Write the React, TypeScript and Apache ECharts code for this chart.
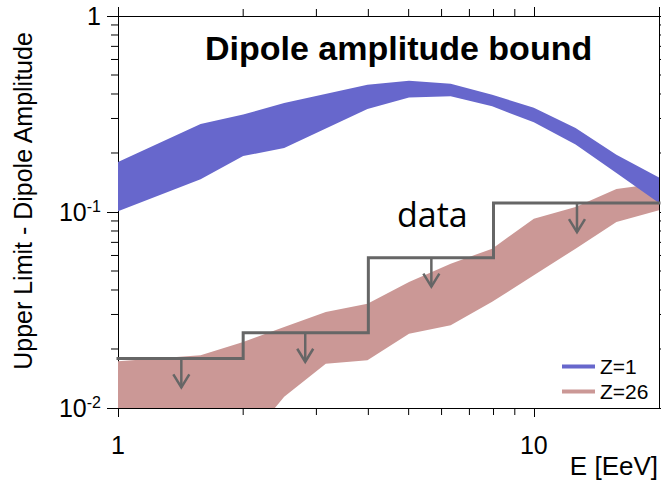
import React, { useEffect, useRef } from "react";
import * as echarts from "echarts";

// Energy grid (EeV) and dipole-amplitude bands
const E_Z1 = [1, 1.58, 2.0, 2.51, 3.98, 5.01, 6.31, 7.94, 10, 12.6, 15.8, 20];
const Z1_HIGH = [0.18, 0.281, 0.314, 0.36, 0.446, 0.467, 0.451, 0.397, 0.34, 0.268, 0.196, 0.15];
const Z1_LOW = [0.101, 0.147, 0.193, 0.212, 0.335, 0.384, 0.389, 0.346, 0.287, 0.221, 0.158, 0.111];

const E_Z26 = [1, 1.58, 2.0, 2.51, 3.16, 3.98, 5.01, 6.31, 7.94, 10, 12.6, 15.8, 20];
const Z26_HIGH = [0.0173, 0.0186, 0.0217, 0.0259, 0.0309, 0.034, 0.044, 0.0545, 0.065, 0.0925, 0.106, 0.131, 0.14];
const Z26_LOW = [0.0045, 0.0052, 0.0064, 0.0114, 0.0168, 0.0175, 0.0239, 0.0264, 0.0348, 0.0475, 0.065, 0.089, 0.102];

// Measured upper limits ("data")
const BIN_EDGES = [1, 2, 4, 8, 20];
const UPPER_LIMITS = [0.0179, 0.0242, 0.0585, 0.111];
const ARROW_E = [1.42, 2.82, 5.67, 12.7];

// Axis ticks
const X_MINOR = [2, 3, 4, 5, 6, 7, 8, 9];
const Y_MINOR = [0.02, 0.03, 0.04, 0.05, 0.06, 0.07, 0.08, 0.09, 0.2, 0.3, 0.4, 0.5, 0.6, 0.7, 0.8, 0.9];

const BLUE = "#6767cc";
const RED = "#cb9896";
const GRAY = "#666666";
const FONT = "Liberation Sans, Arial, sans-serif";

function bandSeries(name: string, E: number[], lo: number[], hi: number[], color: string, z: number) {
  return {
    type: "custom",
    name,
    coordinateSystem: "cartesian2d",
    xAxisIndex: 0,
    yAxisIndex: 0,
    silent: true,
    z,
    itemStyle: { color },
    data: E.map((e, i) => [e, lo[i], hi[i]]),
    encode: { x: 0, y: [1, 2] },
    renderItem: (params: any, api: any) => {
      if (params.dataIndex !== 0) return null;
      const upper = E.map((e, i) => api.coord([e, hi[i]]));
      const lower = E.map((e, i) => api.coord([e, lo[i]])).reverse();
      const cs = params.coordSys;
      return {
        type: "polygon",
        shape: { points: upper.concat(lower) },
        style: { fill: color, stroke: "none" },
        clipPath: { type: "rect", shape: { x: cs.x, y: cs.y, width: cs.width, height: cs.height } },
      };
    },
  };
}

export default function App() {
  const ref = useRef<HTMLDivElement>(null);
  useEffect(() => {
    if (!ref.current) return;
    const chart = echarts.init(ref.current, null, { renderer: "svg" });

    const stepData = BIN_EDGES.map((e, i) => [e, UPPER_LIMITS[Math.min(i, UPPER_LIMITS.length - 1)]]);

    const baseX = {
      type: "log",
      logBase: 10,
      min: 1,
      max: 20,
      splitLine: { show: false },
      axisLine: { show: true, onZero: false, lineStyle: { color: "#000", width: 1 } },
    };
    const baseY = {
      type: "log",
      logBase: 10,
      min: 0.01,
      max: 1,
      splitLine: { show: false },
      axisLine: { show: true, onZero: false, lineStyle: { color: "#000", width: 1 } },
    };

    chart.setOption({
      animation: false,
      backgroundColor: "#fff",
      title: {
        text: "Dipole amplitude bound",
        left: 205,
        top: 31,
        padding: 0,
        textStyle: { fontSize: 34, fontWeight: "bold", fontFamily: FONT, color: "#000" },
      },
      grid: { left: 118, right: 2, top: 16, bottom: 73, containLabel: false },
      legend: {
        orient: "vertical",
        left: 562,
        top: 356,
        padding: 0,
        itemGap: 4,
        itemWidth: 33,
        itemHeight: 4,
        icon: "rect",
        textStyle: { fontSize: 21, fontFamily: FONT, color: "#000" },
        data: [
          { name: "Z=1", itemStyle: { color: BLUE } },
          { name: "Z=26", itemStyle: { color: RED } },
        ],
      },
      xAxis: [
        {
          ...baseX,
          position: "bottom",
          axisTick: { show: true, inside: false, length: 9, lineStyle: { color: "#000" } },
          axisLabel: {
            show: true,
            margin: 24,
            fontSize: 25,
            fontFamily: FONT,
            color: "#000",
            showMaxLabel: false,
            formatter: (v: number) => String(Math.round(v)),
          },
        },
        {
          ...baseX,
          position: "top",
          axisTick: { show: true, inside: false, length: 9, lineStyle: { color: "#000" } },
          axisLabel: { show: false },
        },
      ],
      yAxis: [
        {
          ...baseY,
          position: "left",
          axisTick: { show: true, inside: false, length: 11, lineStyle: { color: "#000" } },
          axisLabel: {
            show: true,
            margin: 17,
            fontSize: 25,
            fontFamily: FONT,
            color: "#000",
            formatter: (v: number) => {
              const p = Math.round(Math.log10(v));
              if (p === 0) return "1";
              return `{b|10}{s|${p}}`;
            },
            rich: {
              b: { fontSize: 25, lineHeight: 28, fontFamily: FONT, color: "#000" },
              s: { fontSize: 16, lineHeight: 14, verticalAlign: "top", fontFamily: FONT, color: "#000" },
            },
          },
        },
        {
          ...baseY,
          position: "right",
          axisTick: { show: true, inside: false, length: 11, lineStyle: { color: "#000" } },
          axisLabel: { show: false },
        },
      ],
      graphic: [
        {
          type: "text",
          x: 23,
          y: 201,
          rotation: Math.PI / 2,
          style: {
            text: "Upper Limit - Dipole Amplitude",
            fontSize: 25,
            fontFamily: FONT,
            fill: "#000",
            textAlign: "center",
            textVerticalAlign: "middle",
          },
        },
        {
          type: "text",
          x: 658,
          y: 466,
          style: {
            text: "E [EeV]",
            fontSize: 26,
            fontFamily: FONT,
            fill: "#000",
            textAlign: "right",
            textVerticalAlign: "middle",
          },
        },
        {
          type: "text",
          x: 397,
          y: 214,
          z: 10,
          style: {
            text: "data",
            fontSize: 34,
            fontFamily: "Open Sans, Noto Sans, sans-serif",
            fill: "#000",
            textAlign: "left",
            textVerticalAlign: "middle",
          },
        },
      ],
      series: [
        bandSeries("Z=26", E_Z26, Z26_LOW, Z26_HIGH, RED, 2),
        bandSeries("Z=1", E_Z1, Z1_LOW, Z1_HIGH, BLUE, 3),
        {
          type: "line",
          name: "data",
          step: "end",
          xAxisIndex: 0,
          yAxisIndex: 0,
          symbol: "none",
          silent: true,
          z: 5,
          data: stepData,
          lineStyle: { color: GRAY, width: 3, cap: "square", join: "miter" },
        },
        {
          type: "custom",
          name: "limits",
          xAxisIndex: 0,
          yAxisIndex: 0,
          silent: true,
          z: 5,
          data: ARROW_E.map((e, i) => [e, UPPER_LIMITS[i]]),
          renderItem: (params: any, api: any) => {
            const [x, y] = api.coord([api.value(0), api.value(1)]);
            const len = 29;
            const style = { stroke: GRAY, lineWidth: 2.5, fill: "none" };
            return {
              type: "group",
              children: [
                { type: "line", shape: { x1: x, y1: y, x2: x, y2: y + len }, style },
                {
                  type: "polyline",
                  shape: { points: [[x - 8, y + len - 13], [x, y + len], [x + 8, y + len - 13]] },
                  style,
                },
              ],
            };
          },
        },
        {
          type: "custom",
          name: "xminor",
          xAxisIndex: 0,
          yAxisIndex: 0,
          silent: true,
          clip: false,
          z: 6,
          data: X_MINOR.map((v) => [v, 0.1]),
          renderItem: (params: any, api: any) => {
            const x = api.coord([api.value(0), 0.1])[0];
            const cs = params.coordSys;
            const style = { stroke: "#000", lineWidth: 1 };
            return {
              type: "group",
              children: [
                { type: "line", shape: { x1: x, y1: cs.y + cs.height, x2: x, y2: cs.y + cs.height + 7 }, style },
                { type: "line", shape: { x1: x, y1: cs.y, x2: x, y2: cs.y - 7 }, style },
              ],
            };
          },
        },
        {
          type: "custom",
          name: "yminor",
          xAxisIndex: 0,
          yAxisIndex: 0,
          silent: true,
          clip: false,
          z: 6,
          data: Y_MINOR.map((v) => [2, v]),
          renderItem: (params: any, api: any) => {
            const y = api.coord([2, api.value(1)])[1];
            const cs = params.coordSys;
            const style = { stroke: "#000", lineWidth: 1 };
            return {
              type: "group",
              children: [
                { type: "line", shape: { x1: cs.x, y1: y, x2: cs.x - 7, y2: y }, style },
                { type: "line", shape: { x1: cs.x + cs.width, y1: y, x2: cs.x + cs.width + 7, y2: y }, style },
              ],
            };
          },
        },
      ],
    });
    return () => chart.dispose();
  }, []);
  return (
    <div
      ref={ref}
      style={{ position: "fixed", left: 0, top: 0, width: 661, height: 481, background: "#fff" }}
    />
  );
}
